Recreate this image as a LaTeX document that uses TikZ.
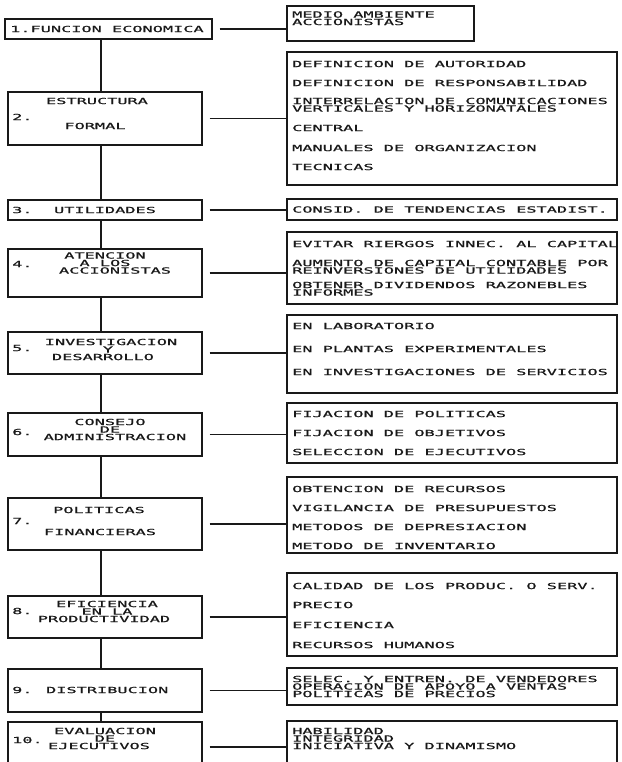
\documentclass[tikz,border=0pt]{standalone}
\usepackage{fontspec}
\newfontfamily\dm[FakeStretch=1.99,FakeBold=0.8]{DejaVu Sans Mono}
\begin{document}
\begin{tikzpicture}[x=1pt,y=-1pt,
  box/.style={draw=black!90, line width=1.1pt, inner sep=0pt},
  lbox/.style={box, minimum width=194pt},
  rbox/.style={box, minimum width=330pt},
  lt/.style={font=\dm\fontsize{8.5}{8.5}\selectfont, inner sep=0pt, anchor=base west, text=black!90},
  ct/.style={font=\dm\fontsize{8.5}{8.5}\selectfont, inner sep=0pt, anchor=base, text=black!90},
  conn/.style={draw=black!90, line width=1.1pt}]
\useasboundingbox (0,0) rectangle (621,762);
\clip (0,0) rectangle (621,762);
\fill[white] (0,0) rectangle (621,762);
\coordinate (trunk) at (101,0);
% left boxes
\node[box, minimum width=207pt, minimum height=20pt] (L1) at (108.5,29) {};
\node[lbox, minimum height=53pt] (L2) at (105,118.5) {};
\node[lbox, minimum height=20pt] (L3) at (105,210) {};
\node[lbox, minimum height=48pt] (L4) at (105,273) {};
\node[lbox, minimum height=42pt] (L5) at (105,353) {};
\node[lbox, minimum height=43pt] (L6) at (105,434.5) {};
\node[lbox, minimum height=52pt] (L7) at (105,524) {};
\node[lbox, minimum height=42pt] (L8) at (105,617) {};
\node[lbox, minimum height=43pt] (L9) at (105,690.5) {};
\node[lbox, minimum height=50pt] (L10) at (105,747) {};
% right boxes
\node[box, minimum width=187pt, minimum height=35pt] (R1) at (380.5,23.5) {};
\node[rbox, minimum height=133pt] (R2) at (452,118.5) {};
\node[rbox, minimum height=21pt] (R3) at (452,209.5) {};
\node[rbox, minimum height=72pt] (R4) at (452,268) {};
\node[rbox, minimum height=78pt] (R5) at (452,354) {};
\node[rbox, minimum height=60pt] (R6) at (452,433) {};
\node[rbox, minimum height=76pt] (R7) at (452,515) {};
\node[rbox, minimum height=83pt] (R8) at (452,614.5) {};
\node[rbox, minimum height=37pt] (R9) at (452,686.5) {};
\node[rbox, minimum height=51pt] (R10) at (452,746.5) {};
% trunk
\foreach \a/\b in {L1/L2,L2/L3,L3/L4,L4/L5,L5/L6,L6/L7,L7/L8,L8/L9,L9/L10}
  \draw[conn] (\a.south -| trunk) -- (\b.north -| trunk);
% connectors
\foreach \k in {1,...,10}
  \draw[conn] ([xshift=7pt]L\k.east) -- (L\k.east -| R\k.west);
% left texts
\node[lt] (a1) at (10,32.1) {1.FUNCION ECONOMICA};
\node[ct] (a2a) at (97,104.1) {ESTRUCTURA};
\node[lt] (a2n) at (12,120.1) {2.};
\node[ct] (a2b) at (95,129.1) {FORMAL};
\node[lt] (a3n) at (12,213.1) {3.};
\node[ct] (a3a) at (105,213.1) {UTILIDADES};
\node[ct] (a4a) at (105,258.6) {ATENCION};
\node[ct] (a4b) at (105,266.1) {A LOS};
\node[ct] (a4c) at (115,273.6) {ACCIONISTAS};
\node[lt] (a4n) at (12,267.1) {4.};
\node[ct] (a5a) at (111,345.1) {INVESTIGACION};
\node[ct] (a5b) at (108,352.6) {Y};
\node[ct] (a5c) at (103,360.1) {DESARROLLO};
\node[lt] (a5n) at (12,351.1) {5.};
\node[ct] (a6a) at (110,425.1) {CONSEJO};
\node[ct] (a6b) at (110,432.6) {DE};
\node[ct] (a6c) at (115,440.1) {ADMINISTRACION};
\node[lt] (a6n) at (12,435.1) {6.};
\node[ct] (a7a) at (99,513.1) {POLITICAS};
\node[lt] (a7n) at (12,524.1) {7.};
\node[ct] (a7b) at (100,535.1) {FINANCIERAS};
\node[ct] (a8a) at (107,607.1) {EFICIENCIA};
\node[ct] (a8b) at (107,614.6) {EN LA};
\node[ct] (a8c) at (104,622.1) {PRODUCTIVIDAD};
\node[lt] (a8n) at (12,614.1) {8.};
\node[lt] (a9) at (12,693.1) {9. DISTRIBUCION};
\node[ct] (a10a) at (105,734.1) {EVALUACION};
\node[ct] (a10b) at (105,741.6) {DE};
\node[ct] (a10c) at (99,749.1) {EJECUTIVOS};
\node[lt] (a10n) at (12,743.1) {10.};
% right texts
\node[lt] (b1a) at (292,17.6) {MEDIO AMBIENTE};
\node[lt] (b1b) at (292,25.1) {ACCIONISTAS};
\node[lt] (b2a) at (292,67.1) {DEFINICION DE AUTORIDAD};
\node[lt] (b2b) at (292,86.1) {DEFINICION DE RESPONSABILIDAD};
\node[lt] (b2c) at (292,104.1) {INTERRELACION DE COMUNICACIONES};
\node[lt] (b2d) at (292,111.6) {VERTICALES Y HORIZONATALES};
\node[lt] (b2e) at (292,131.1) {CENTRAL};
\node[lt] (b2f) at (292,151.1) {MANUALES DE ORGANIZACION};
\node[lt] (b2g) at (292,170.1) {TECNICAS};
\node[lt] (b3) at (292,212.6) {CONSID. DE TENDENCIAS ESTADIST.};
\node[lt] (b4a) at (292,247.1) {EVITAR RIERGOS INNEC. AL CAPITAL};
\node[lt] (b4b) at (292,266.1) {AUMENTO DE CAPITAL CONTABLE POR};
\node[lt] (b4c) at (292,273.6) {REINVERSIONES DE UTILIDADES};
\node[lt] (b4d) at (292,288.1) {OBTENER DIVIDENDOS RAZONEBLES};
\node[lt] (b4e) at (292,295.6) {INFORMES};
\node[lt] (b5a) at (292,329.1) {EN LABORATORIO};
\node[lt] (b5b) at (292,352.1) {EN PLANTAS EXPERIMENTALES};
\node[lt] (b5c) at (292,375.1) {EN INVESTIGACIONES DE SERVICIOS};
\node[lt] (b6a) at (292,417.1) {FIJACION DE POLITICAS};
\node[lt] (b6b) at (292,436.1) {FIJACION DE OBJETIVOS};
\node[lt] (b6c) at (292,455.1) {SELECCION DE EJECUTIVOS};
\node[lt] (b7a) at (292,492.1) {OBTENCION DE RECURSOS};
\node[lt] (b7b) at (292,511.1) {VIGILANCIA DE PRESUPUESTOS};
\node[lt] (b7c) at (292,530.1) {METODOS DE DEPRESIACION};
\node[lt] (b7d) at (292,549.1) {METODO DE INVENTARIO};
\node[lt] (b8a) at (292,589.1) {CALIDAD DE LOS PRODUC. O SERV.};
\node[lt] (b8b) at (292,608.1) {PRECIO};
\node[lt] (b8c) at (292,628.1) {EFICIENCIA};
\node[lt] (b8d) at (292,648.1) {RECURSOS HUMANOS};
\node[lt] (b9a) at (292,682.1) {SELEC. Y ENTREN. DE VENDEDORES};
\node[lt] (b9b) at (292,689.6) {OPERACION DE APOYO A VENTAS};
\node[lt] (b9c) at (292,697.1) {POLITICAS DE PRECIOS};
\node[lt] (b10a) at (292,734.1) {HABILIDAD};
\node[lt] (b10b) at (292,741.6) {INTEGRIDAD};
\node[lt] (b10c) at (292,749.1) {INICIATIVA Y DINAMISMO};
\end{tikzpicture}
\end{document}
